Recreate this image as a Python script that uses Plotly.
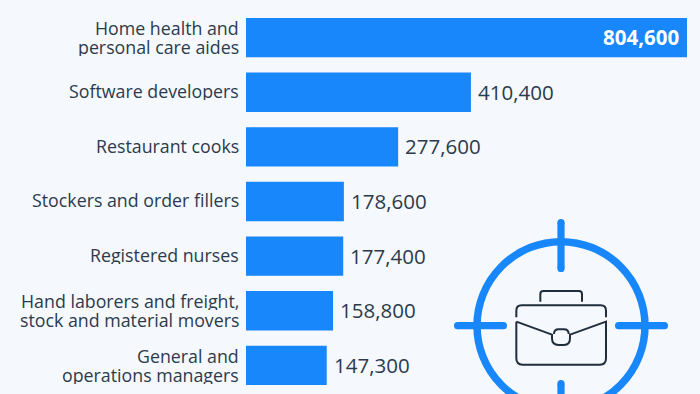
import re
import plotly.graph_objects as go

W, H = 700, 394
categories = ["Home health and\npersonal care aides", "Software developers", "Restaurant cooks",
              "Stockers and order fillers", "Registered nurses",
              "Hand laborers and freight,\nstock and material movers", "General and\noperations managers"]
values = [804600, 410400, 277600, 178600, 177400, 158800, 147300]
value_labels = ["804,600", "410,400", "277,600", "178,600", "177,400", "158,800", "147,300"]

BG = "#f5f8fc"
BLUE = "#1787fb"
DARK = "#2b3b4c"
FONT = "Open Sans"
PITCH = 54.63
C0 = 37.6

fig = go.Figure(go.Bar(
    x=values, y=list(range(len(values))), orientation="h", width=0.72,
    marker=dict(color=BLUE, line_width=0),
    hoverinfo="skip",
))

annotations = []
for i, label in enumerate(categories):
    lines = label.split("\n")
    for j, line in enumerate(lines):
        annotations.append(dict(
            x=240 / W, xref="paper", xanchor="right", y=i, yref="y", yanchor="middle",
            yshift=-(j - (len(lines) - 1) / 2) * 19.4 + (0.6 if len(lines) > 1 else 1.5),
            text=line, showarrow=False,
            font=dict(family=FONT, size=17.8, color=DARK), borderpad=0, height=19,
        ))
for i, (v, t) in enumerate(zip(values, value_labels)):
    inside = i == 0
    annotations.append(dict(
        x=v, xref="x", y=i, yref="y", yanchor="middle", showarrow=False, borderpad=0,
        xanchor="right" if inside else "left", xshift=-7 if inside else 6, yshift=0.5,
        text=f"<b>{t}</b>" if inside else t,
        font=dict(family=FONT, size=20.5, color="#ffffff" if inside else DARK),
    ))


def px(path):
    """Icon outline given in screen pixels -> paper coordinates."""
    out = []
    for tok in re.findall(r"[MLQZ]|-?[\d.]+,-?[\d.]+", path):
        if "," in tok:
            a, b = map(float, tok.split(","))
            out.append(f"{a / W:.5f},{1 - b / H:.5f}")
        else:
            out.append(tok)
    return " ".join(out)


def z(path):
    """Icon outline traced on a 3x crop at (440,210) -> screen pixels."""
    def f(m):
        return f"{440 + float(m[1]) / 3:.2f},{210 + float(m[2]) / 3:.2f}"
    return re.sub(r"(-?[\d.]+),(-?[\d.]+)", f, path)


def dot(x, y, r):
    return dict(type="circle", xref="paper", yref="paper", layer="above",
                x0=(x - r) / W, x1=(x + r) / W, y0=1 - (y + r) / H, y1=1 - (y - r) / H,
                line_width=0, fillcolor=BLUE)


CX, CY, R = 561, 325.7, 84
TICK_W = 7.2
shapes = [dict(type="circle", xref="paper", yref="paper",
               x0=(CX - R) / W, x1=(CX + R) / W, y0=1 - (CY + R) / H, y1=1 - (CY - R) / H,
               line=dict(color=BLUE, width=7.5), fillcolor="rgba(0,0,0,0)", layer="above")]
for (x0, y0), (x1, y1) in [((457.6, CY), (503.4, CY)), ((618.6, CY), (664.4, CY)),
                           ((CX, 222.6), (CX, 268.4)), ((CX, 383.6), (CX, 430))]:
    shapes.append(dict(type="path", xref="paper", yref="paper", path=px(f"M{x0},{y0} L{x1},{y1}"),
                       line=dict(color=BLUE, width=TICK_W), layer="above"))
    shapes.append(dot(x0, y0, TICK_W / 2))
    shapes.append(dot(x1, y1, TICK_W / 2))
for p in [
    "M301,275 L301,252 Q301,243 310,243 L417,243 Q426,243 426,252 L426,275",
    "M229,322 L229,302 Q229,286 245,286 L482,286 Q498,286 498,302 L498,322",
    "M229,335 L229,445 Q229,464 248,464 L480,464 Q498,464 498,445 L498,335 L390,374 L390,385 "
    "Q390,405 372,405 L356,405 Q336,405 336,385 L336,374 L229,335",
    "M342,372 Q342,358 356,358 L372,358 Q386,358 386,372",
]:
    shapes.append(dict(type="path", xref="paper", yref="paper", path=px(z(p)),
                       line=dict(color="#1f2d3d", width=2), layer="above"))

fig.update_layout(
    width=W, height=H, margin=dict(l=0, r=0, t=0, b=0, autoexpand=False),
    paper_bgcolor=BG, plot_bgcolor=BG, showlegend=False,
    xaxis=dict(domain=[246 / W, 687 / W], range=[0, 804600], visible=False),
    yaxis=dict(domain=[0, 1], range=[(H - C0) / PITCH, -C0 / PITCH], visible=False),
    annotations=annotations, shapes=shapes,
)
fig.write_html("out.html", config=dict(displayModeBar=False),
               post_script="document.body.style.margin='0';document.documentElement.style.overflow='hidden';")
